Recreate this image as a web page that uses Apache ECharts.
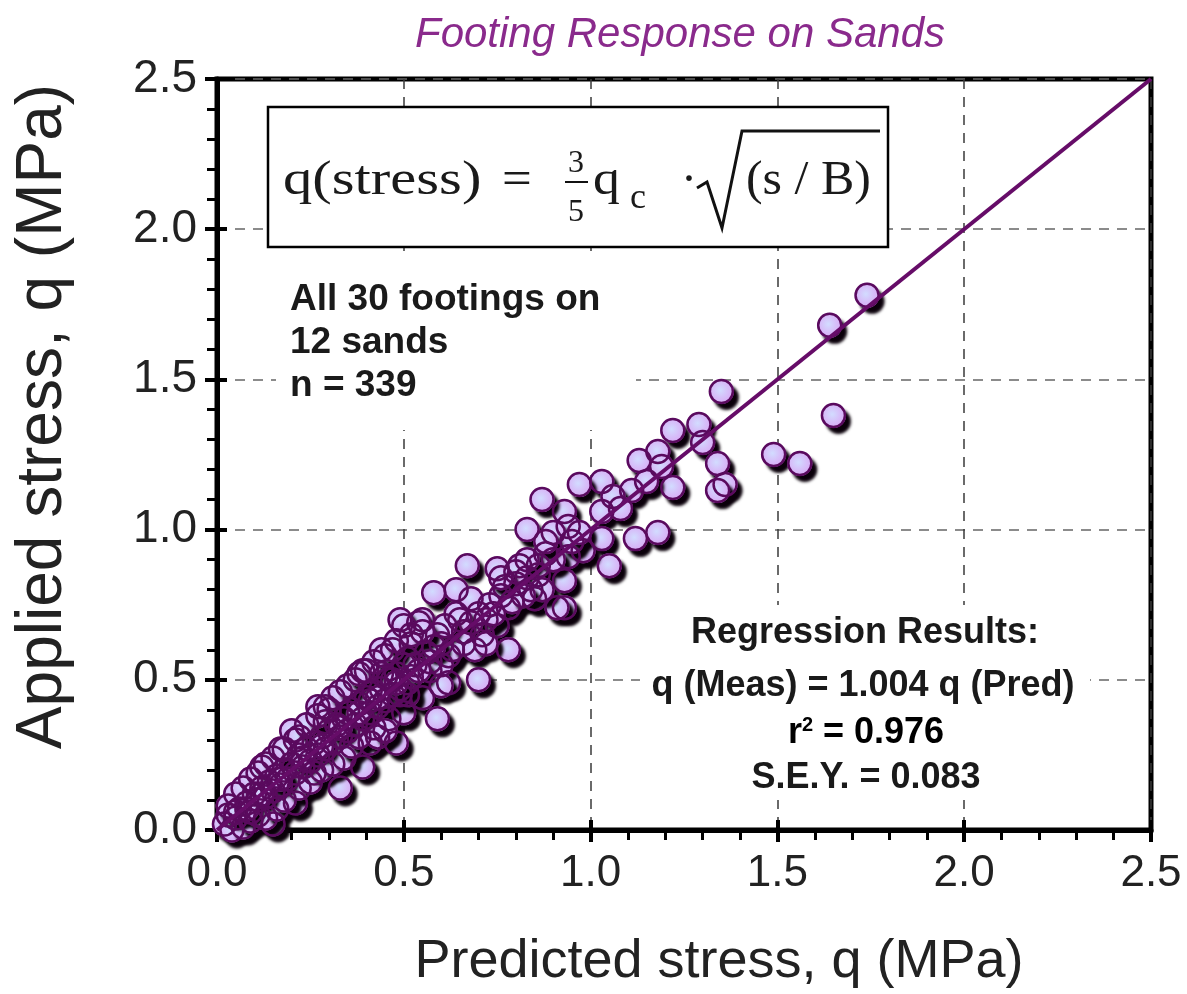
<!DOCTYPE html>
<html>
<head>
<meta charset="utf-8">
<script src="https://cdn.jsdelivr.net/npm/echarts@6/dist/echarts.min.js"></script>
<style>html,body{margin:0;padding:0;background:#fff;}#chart{width:1187px;height:994px;}</style>
</head>
<body>
<div id="chart"></div>
<script>
const predicted = [
  1.74,1.64,1.35,1.65,1.22,1.29,1.30,1.49,1.56,1.13,1.18,1.19,1.34,1.36,1.34,1.22,1.11,1.03,1.06,0.97,0.93,1.03,1.03,1.12,1.18,1.05,0.94,0.94,0.93,0.93,1.08,1.15,
  0.87,0.83,0.90,0.98,0.67,0.75,0.81,0.86,0.58,0.64,0.68,0.77,0.85,0.91,0.64,0.55,0.50,0.59,0.71,0.75,0.78,0.44,0.51,0.56,0.62,0.44,0.39,0.57,0.70,0.62,0.55,0.49,0.41,0.54,0.49,0.78,0.59,
  0.60,0.66,0.70,0.73,0.76,0.80,0.83,0.86,0.88,0.90,0.95,0.97,0.72,0.68,0.63,0.65,0.74,0.79,0.84,0.53,0.57,0.60,0.52,0.47,0.66,0.69,0.72,0.61,0.58,0.83,0.88,0.80,0.76,0.87,0.82,
  0.37,0.45,0.29,0.26,0.33,0.39,0.48,0.29,0.35,0.21,0.41,0.42,0.46,0.50,0.60,0.51,0.15,0.21,0.12,0.17,0.20,0.27,
  0.02,0.03,0.05,0.06,0.08,0.09,0.10,0.11,0.12,0.13,0.14,0.15,0.16,0.17,0.18,0.19,0.20,0.21,0.22,0.23,0.24,0.25,0.26,0.27,0.28,0.29,0.30,0.31,0.32,0.33,0.34,0.35,0.36,0.37,0.38,0.39,0.40,0.41,0.42,0.43,0.44,0.45,0.46,0.47,0.48,0.49,0.50,0.51,0.52,0.54,
  0.04,0.07,0.09,0.11,0.13,0.16,0.18,0.22,0.25,0.28,0.31,0.34,0.36,0.38,0.43,0.45,
  0.03,0.05,0.07,0.09,0.11,0.13,0.15,0.18,0.22,0.24,0.27,0.30,0.31,0.33,0.35,0.38,0.40,0.42,0.45,0.47,0.48,0.52,0.55,
  0.05,0.08,0.12,0.17,0.23,0.28,0.33,0.38,0.43,0.48
];
const applied = [
  1.78,1.68,1.46,1.38,1.33,1.35,1.29,1.25,1.22,1.23,1.26,1.21,1.22,1.15,1.13,1.14,1.13,1.16,1.11,1.15,1.06,1.06,0.97,0.97,0.99,0.88,1.01,0.91,0.83,0.74,1.07,1.16,
  1.10,1.00,0.99,0.93,0.88,0.87,0.88,0.85,0.79,0.80,0.77,0.81,0.77,0.74,0.72,0.70,0.68,0.65,0.65,0.68,0.60,0.60,0.57,0.59,0.58,0.52,0.53,0.53,0.50,0.49,0.44,0.45,0.43,0.69,0.70,0.74,0.37,
  0.62,0.66,0.72,0.75,0.78,0.82,0.84,0.88,0.92,0.90,0.96,0.99,0.70,0.69,0.60,0.70,0.72,0.76,0.80,0.55,0.56,0.55,0.62,0.50,0.62,0.60,0.62,0.68,0.61,0.90,0.96,0.86,0.84,0.80,0.78,
  0.50,0.51,0.36,0.19,0.14,0.21,0.29,0.41,0.39,0.30,0.29,0.34,0.37,0.39,0.48,0.45,0.02,0.09,0.21,0.27,0.33,0.41,
  0.02,0.05,0.04,0.07,0.09,0.06,0.12,0.10,0.14,0.11,0.16,0.13,0.18,0.15,0.20,0.17,0.22,0.19,0.25,0.21,0.27,0.23,0.29,0.25,0.31,0.27,0.33,0.29,0.35,0.31,0.37,0.33,0.40,0.35,0.42,0.37,0.44,0.39,0.46,0.41,0.47,0.43,0.50,0.45,0.52,0.47,0.55,0.49,0.51,0.53,
  0.00,0.01,0.03,0.05,0.04,0.07,0.10,0.14,0.16,0.20,0.22,0.24,0.28,0.31,0.31,0.33,
  0.08,0.12,0.14,0.17,0.19,0.22,0.24,0.27,0.31,0.35,0.38,0.40,0.44,0.46,0.48,0.52,0.53,0.56,0.58,0.60,0.63,0.65,0.66,
  0.06,0.07,0.12,0.17,0.24,0.28,0.34,0.39,0.44,0.49
];
const lineX = [0, 2.5];
const lineY = [0, 2.5];
const titleText = 'Footing Response on Sands';
const xName = 'Predicted stress, q (MPa)';
const yName = 'Applied stress, q (MPa)';
const noteLines = ['All 30 footings on', '12 sands', 'n = 339'];
const regLines = ['Regression Results:', 'q (Meas) = 1.004 q (Pred)', '{n|r}{s|2}{n| = 0.976}', 'S.E.Y. = 0.083'];

const pts = predicted.map((x, i) => [x, applied[i]]);
const linePts = lineX.map((x, i) => [x, lineY[i]]);

const chart = echarts.init(document.getElementById('chart'), null, {renderer: 'canvas'});
const sans = 'Liberation Sans, Arial, sans-serif';
const serif = 'Liberation Serif, Times New Roman, serif';

const commonAxis = {
  min: 0, max: 2.5, interval: 0.5,
  axisLine: {show: true, lineStyle: {color: '#000', width: 5}},
  axisTick: {show: true, inside: false, length: 12, lineStyle: {color: '#000', width: 4}},
  minorTick: {show: true, splitNumber: 5, length: 10, lineStyle: {color: '#000', width: 3}},
  axisLabel: {fontFamily: sans, fontSize: 44, color: '#222', formatter: v => v.toFixed(1)}
};

function txt(x, y, text, font, align, extra) {
  return Object.assign({type: 'text', z: 4, x: x, y: y,
    style: {text: text, font: font, fill: '#1a1a1a', align: align || 'left', verticalAlign: 'middle'}}, extra || {});
}

const option = {
  backgroundColor: '#fff',
  animation: false,
  title: {
    text: titleText, left: 410, top: 9,
    textStyle: {fontFamily: sans, fontStyle: 'italic', fontWeight: 'normal', fontSize: 42, color: '#8a2a8c'}
  },
  grid: {left: 217, right: 36, top: 79, bottom: 160, show: true, borderColor: '#000', borderWidth: 5, backgroundColor: 'transparent'},
  xAxis: [
    Object.assign({}, commonAxis, {
      type: 'value', position: 'bottom',
      name: xName, nameLocation: 'middle', nameGap: 105,
      nameTextStyle: {fontFamily: sans, fontSize: 54, color: '#222', padding: [0, 0, 0, 70]},
      axisLabel: Object.assign({}, commonAxis.axisLabel, {margin: 22}),
      splitLine: {show: true, lineStyle: {color: '#3a3a3a', width: 1.5, type: [10, 8]}}
    }),
    {
      type: 'value', position: 'bottom', min: 0, max: 2.5, interval: 0.5,
      axisLine: {show: false}, axisLabel: {show: false}, splitLine: {show: false},
      axisTick: {show: true, inside: true, length: 10, lineStyle: {color: '#000', width: 4}}
    }
  ],
  yAxis: [
    Object.assign({}, commonAxis, {
      type: 'value', position: 'left',
      name: yName, nameLocation: 'middle', nameGap: 142, nameRotate: 90,
      nameTextStyle: {fontFamily: sans, fontSize: 64, color: '#222', padding: [0, 0, 0, 76]},
      axisLabel: Object.assign({}, commonAxis.axisLabel, {margin: 20, fontSize: 46}),
      splitLine: {show: true, lineStyle: {color: '#666', width: 1.5, type: [10, 8]}}
    }),
    {
      type: 'value', position: 'left', min: 0, max: 2.5, interval: 0.5,
      axisLine: {show: false}, axisLabel: {show: false}, splitLine: {show: false},
      axisTick: {show: true, inside: true, length: 10, lineStyle: {color: '#000', width: 4}}
    }
  ],
  graphic: [
    // white backgrounds hiding grid lines behind annotations
    {type: 'rect', z: 1, shape: {x: 276, y: 258, width: 360, height: 172}, style: {fill: '#fff'}},
    {type: 'rect', z: 1, shape: {x: 640, y: 605, width: 450, height: 195}, style: {fill: '#fff'}},
    // formula box
    {type: 'rect', z: 3, shape: {x: 268, y: 107, width: 620, height: 140}, style: {fill: '#fff', stroke: '#000', lineWidth: 2.5}},
    txt(283, 181, 'q(stress)', 'normal 48px ' + serif, 'left', {scaleX: 1.22}),
    txt(502, 181, '=', 'normal 48px ' + serif, 'left', {scaleX: 1.1}),
    txt(576, 164, '3', 'normal 32px ' + serif, 'center'),
    {type: 'line', z: 4, shape: {x1: 565, y1: 182, x2: 588, y2: 182}, style: {stroke: '#111', lineWidth: 2}},
    txt(576, 213, '5', 'normal 32px ' + serif, 'center'),
    txt(593, 181, 'q', 'normal 48px ' + serif, 'left', {scaleX: 1.12}),
    txt(630, 199, 'c', 'normal 36px ' + serif, 'left'),
    txt(681, 181, '·', 'normal 48px ' + serif, 'left'),
    {type: 'polyline', z: 4, shape: {points: [[697, 188], [707, 182], [722, 228], [742, 131], [880, 131]]}, style: {stroke: '#111', lineWidth: 3, fill: null}},
    txt(746, 181, '(s / B)', 'normal 48px ' + serif, 'left', {scaleX: 1.04}),
    // left note
    txt(290, 300, noteLines[0], 'bold 37px ' + sans),
    txt(290, 343, noteLines[1], 'bold 37px ' + sans),
    txt(290, 386, noteLines[2], 'bold 37px ' + sans),
    // regression block
    txt(865, 633, regLines[0], 'bold 36px ' + sans, 'center'),
    txt(863, 686, regLines[1], 'bold 36px ' + sans, 'center'),
    {type: 'text', z: 4, x: 866, y: 733, style: {text: regLines[2], align: 'center', verticalAlign: 'middle',
      rich: {n: {font: 'bold 36px ' + sans, color: '#1a1a1a'}, s: {font: 'bold 20px ' + sans, color: '#1a1a1a', verticalAlign: 'top', padding: [0, 0, 16, 0]}}}},
    txt(866, 778, regLines[3], 'bold 36px ' + sans, 'center')
  ],
  series: [
    {
      // filled discs with dark drop shadow
      type: 'scatter', xAxisIndex: 0, yAxisIndex: 0, z: 3,
      data: pts, symbol: 'circle', symbolSize: 25,
      itemStyle: {
        color: {type: 'radial', x: 0.45, y: 0.45, r: 0.55, colorStops: [{offset: 0, color: '#d2dcff'}, {offset: 0.55, color: '#d6bff9'}, {offset: 1, color: '#d8aaf5'}]},
        borderWidth: 0,
        shadowColor: 'rgba(10,0,10,1)', shadowBlur: 3, shadowOffsetX: 5, shadowOffsetY: 6, opacity: 1
      },
      emphasis: {disabled: true}
    },
    {
      // dark purple rims
      type: 'scatter', xAxisIndex: 0, yAxisIndex: 0, z: 4,
      data: pts, symbol: 'circle', symbolSize: 23,
      itemStyle: {color: 'rgba(0,0,0,0)', borderColor: '#5a0a5e', borderWidth: 2.5, opacity: 1},
      emphasis: {disabled: true}
    },
    {
      type: 'line', xAxisIndex: 0, yAxisIndex: 0, z: 6,
      data: linePts, symbol: 'none',
      lineStyle: {color: '#660c68', width: 4}
    }
  ]
};
chart.setOption(option);
</script>
</body>
</html>
